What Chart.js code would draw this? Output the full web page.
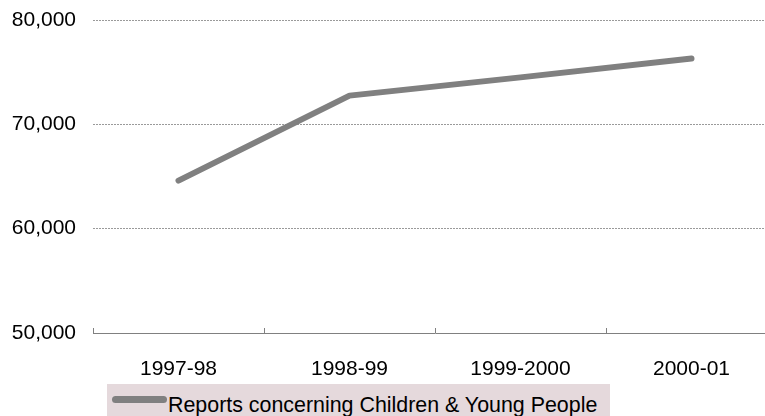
<!DOCTYPE html>
<html>
<head>
<meta charset="utf-8">
<script src="https://cdn.jsdelivr.net/npm/chart.js@4"></script>
<style>
    body { margin: 0; overflow: hidden; background: #fff; width: 765px; height: 416px; }
    #caja { position: relative; width: 777px; height: 416px; }
    #leyenda {
        position: absolute; left: 107px; top: 384px; width: 503px; height: 40px;
        background: #e5d9dc; font-family: "Liberation Sans", Arial, sans-serif; font-size: 21.4px; color: #000;
    }
    #leyenda .linea {
        position: absolute; left: 5px; top: 12px; width: 55px; height: 7px;
        border-radius: 4px; background: #808080;
    }
    #leyenda .texto { position: absolute; left: 61px; top: 9px; white-space: nowrap; }
</style>
</head>
<body>
<div id="caja">
    <canvas id="grafico" width="777" height="416"></canvas>
    <div id="leyenda"><span class="linea"></span><span class="texto"></span></div>
</div>
<script>
// Datos del gráfico
const categorias = ['1997-98', '1998-99', '1999-2000', '2000-01'];
const reportes = [64600, 72750, 74500, 76300];
const nombreSerie = 'Reports concerning Children & Young People';
const ticksY = [50000, 60000, 70000, 80000];

document.querySelector('#leyenda .texto').textContent = nombreSerie;

// Marcas pequeñas entre categorías sobre el eje X
const marcasEje = {
    id: 'marcasEje',
    afterDraw(chart) {
        const x = chart.scales.x;
        const ctx = chart.ctx;
        const paso = (x.right - x.left) / categorias.length;
        ctx.save();
        ctx.strokeStyle = '#808080';
        ctx.lineWidth = 1;
        for (let i = 0; i <= categorias.length; i++) {
            const px = Math.round(x.left + i * paso) + 0.5;
            ctx.beginPath();
            ctx.moveTo(px, x.top - 5);
            ctx.lineTo(px, x.top);
            ctx.stroke();
        }
        ctx.restore();
    }
};

const fuente = { family: 'Liberation Sans, Arial', size: 21 };

const ctx = document.getElementById('grafico').getContext('2d');
new Chart(ctx, {
    type: 'line',
    data: {
        labels: categorias,
        datasets: [{
            label: nombreSerie,
            data: reportes,
            borderColor: '#808080',
            backgroundColor: '#808080',
            borderWidth: 6,
            borderCapStyle: 'round',
            borderJoinStyle: 'round',
            pointRadius: 0,
            tension: 0,
            fill: false,
            clip: false
        }]
    },
    options: {
        responsive: false,
        animation: false,
        layout: { padding: { top: 20, right: 0, left: 0, bottom: 0 } },
        plugins: { legend: { display: false }, tooltip: { enabled: false } },
        scales: {
            x: {
                offset: true,
                grid: { display: false, drawTicks: false },
                border: { display: true, color: '#808080', width: 1 },
                ticks: { padding: 24, color: '#000', font: fuente },
                afterFit(scale) { scale.height = 83; scale.paddingLeft = 0; scale.paddingRight = 0; }
            },
            y: {
                min: 50000,
                max: 80000,
                afterBuildTicks(scale) { scale.ticks = ticksY.map(v => ({ value: v })); },
                grid: {
                    drawTicks: false,
                    color: c => c.tick && c.tick.value === 50000 ? 'rgba(0,0,0,0)' : '#9a9a9a',
                    lineWidth: 1
                },
                border: { display: false, dash: [2, 1] },
                ticks: {
                    padding: 17,
                    color: '#000',
                    font: fuente,
                    callback: v => v.toLocaleString('en-US')
                },
                afterFit(scale) { scale.width = 93; scale.paddingTop = 0; scale.paddingBottom = 0; }
            }
        }
    },
    plugins: [marcasEje]
});
</script>
</body>
</html>
